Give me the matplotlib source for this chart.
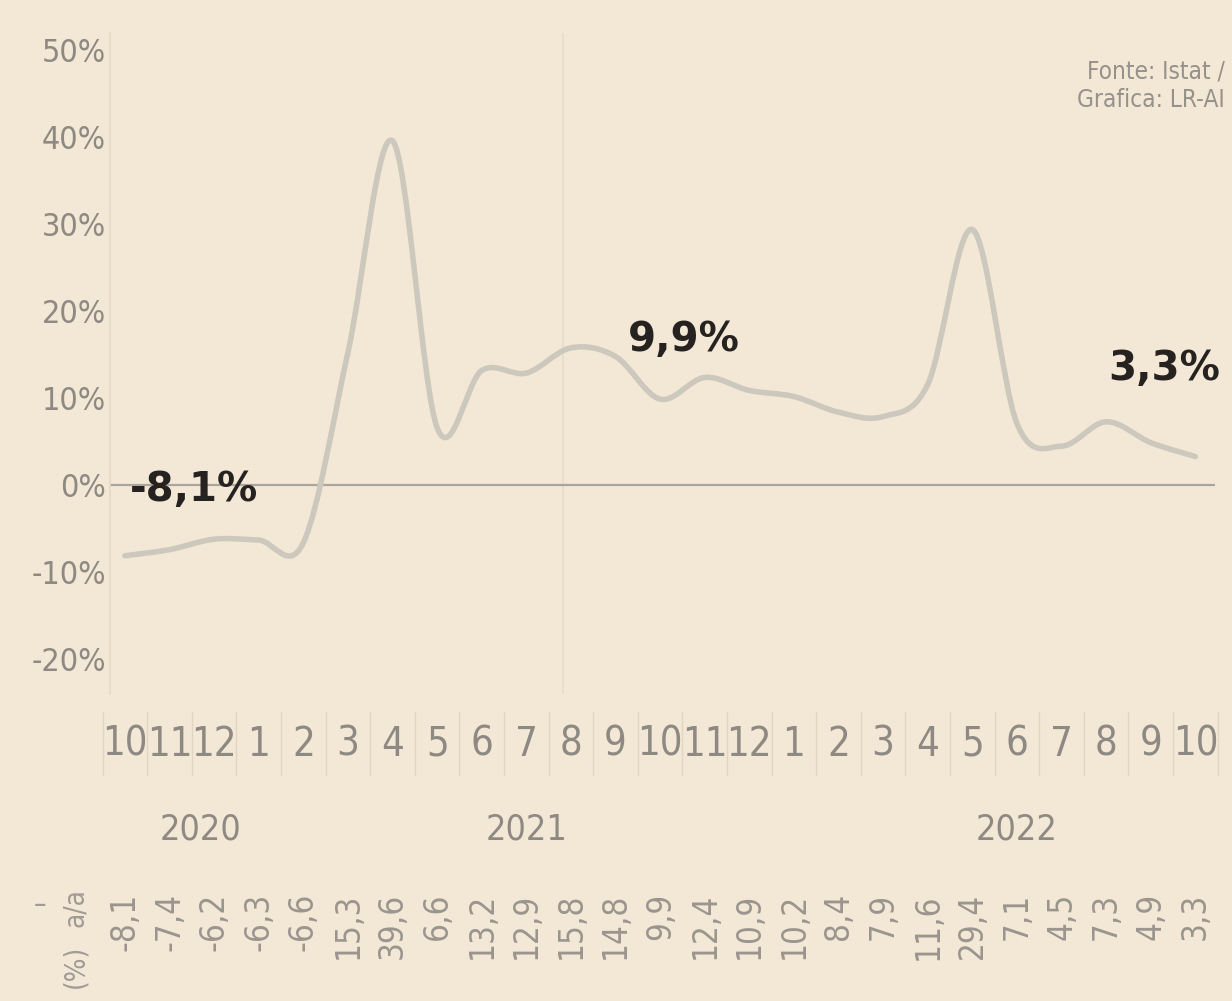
import numpy as np
import matplotlib
matplotlib.use("Agg")
import matplotlib.pyplot as plt
import matplotlib.transforms as mtransforms
from matplotlib.path import Path
from matplotlib.patches import PathPatch
from matplotlib import font_manager

# data: monthly change (%), Oct 2020 - Oct 2022
months = ["10", "11", "12", "1", "2", "3", "4", "5", "6", "7", "8", "9",
          "10", "11", "12", "1", "2", "3", "4", "5", "6", "7", "8", "9", "10"]
values = [-8.1, -7.4, -6.2, -6.3, -6.6, 15.3, 39.6, 6.6, 13.2, 12.9, 15.8, 14.8,
          9.9, 12.4, 10.9, 10.2, 8.4, 7.9, 11.6, 29.4, 7.1, 4.5, 7.3, 4.9, 3.3]
years = ["2020", "2021", "2022"]
year_pos = [1.7, 9.0, 20.0]
callouts = {0: "-8,1%", 12: "9,9%", 24: "3,3%"}
yticks = [-20, -10, 0, 10, 20, 30, 40, 50]
source = "Fonte: Istat /\nGrafica: LR-AI"

BG = "#f3e8d6"
LINE = "#cdc8bd"
GREY = "#8e8982"
DARK = "#25221f"

# look for a condensed / narrow face, the original uses one
cond = None
for f in font_manager.fontManager.ttflist:
    if f.weight not in (400, "normal", "regular", "book"):
        continue
    if ("Narrow" in f.name or "Condensed" in f.name
            or f.stretch in ("condensed", "semi-condensed", "extra-condensed")):
        cond = f
        break

if cond is not None:
    NARROW = dict(family=[cond.name, "DejaVu Sans"], fontstretch=cond.stretch)
    k = 1.25
else:
    NARROW = dict(family=["DejaVu Sans"])
    k = 1.0

fig = plt.figure(figsize=(12.32, 10.01), dpi=100, facecolor=BG)
ax = fig.add_axes([110 / 1232, 307 / 1001, 1105 / 1232, 661 / 1001])
ax.set_facecolor(BG)
ax.set_xlim(-0.336, 24.44)
ax.set_ylim(-24, 52)

for s in ["top", "right", "bottom"]:
    ax.spines[s].set_visible(False)
ax.spines["left"].set_color("#e6d9c6")
ax.spines["left"].set_linewidth(1.2)

ax.set_xticks([])
ax.set_yticks(yticks)
ax.set_yticklabels([f"{v}%" for v in yticks], fontsize=18.5 * k, color=GREY, **NARROW)
ax.tick_params(axis="y", length=0, pad=3)

# faint fold / grid line and zero line
ax.axvline(9.82, color="#e8dccb", lw=1.2, zorder=0)
ax.axhline(0, color="#aaa59d", lw=1.6, zorder=1)

# smooth line through the monthly points
x = np.arange(len(values), dtype=float)
pts = np.column_stack([x, np.array(values)])
n = len(pts)
verts = [pts[0]]
codes = [Path.MOVETO]
for i in range(n - 1):
    p0 = pts[max(i - 1, 0)]
    p1 = pts[i]
    p2 = pts[i + 1]
    p3 = pts[min(i + 2, n - 1)]
    verts += [p1 + (p2 - p0) / 6, p2 - (p3 - p1) / 6, p2]
    codes += [Path.CURVE4] * 3
ax.add_patch(PathPatch(Path(verts, codes), facecolor="none", edgecolor=LINE,
                       lw=4.0, capstyle="round", joinstyle="round", zorder=2))

# callouts (offsets from the point they describe)
offs = {0: (0.11, 7.5), 12: (-0.72, 6.8), 24: (-1.96, 10.1)}
for i, txt in callouts.items():
    dx, dy = offs[i]
    ax.text(i + dx, values[i] + dy, txt, family="DejaVu Sans", fontweight="bold",
            fontsize=29, color=DARK, ha="left", va="center", zorder=3)

# month labels, separators, years
tr = mtransforms.blended_transform_factory(ax.transData, fig.transFigure)
for i, m in enumerate(months):
    ax.text(i, 1 - 745 / 1001, m, transform=tr, fontsize=23 * k,
            color=GREY, ha="center", va="center", clip_on=False, **NARROW)
for i in range(len(months) + 1):
    ax.plot([i - 0.5, i - 0.5], [1 - 775 / 1001, 1 - 712 / 1001], transform=tr,
            color="#e2d5c2", lw=1, clip_on=False)
for yr, p in zip(years, year_pos):
    ax.text(p, 1 - 830 / 1001, yr, transform=tr, fontsize=20.5 * k,
            color=GREY, ha="center", va="center", clip_on=False, **NARROW)

# rotated value row
for i, v in enumerate(values):
    lab = f"{v:.1f}".replace(".", ",")
    ax.text(i, 1 - 893 / 1001, lab, transform=tr, fontsize=19 * k,
            color="#9a958e", rotation=90, ha="center", va="top", clip_on=False, **NARROW)

fig.text(40 / 1232, 1 - 905 / 1001, "\u2013", fontsize=16 * k,
         color="#a09b94", ha="center", va="center", **NARROW)
fig.text(75 / 1232, 1 - 888 / 1001, "a/a", fontsize=16 * k,
         color="#a09b94", rotation=90, ha="center", va="top", **NARROW)
fig.text(75 / 1232, 1 - 945 / 1001, "(%)", fontsize=16 * k,
         color="#a09b94", rotation=90, ha="center", va="top", **NARROW)

fig.text(1225 / 1232, 1 - 86 / 1001, source, fontsize=14 * k,
         color="#96918a", ha="right", va="center", linespacing=1.25, **NARROW)

fig.savefig("out.png", dpi=100, facecolor=BG)
